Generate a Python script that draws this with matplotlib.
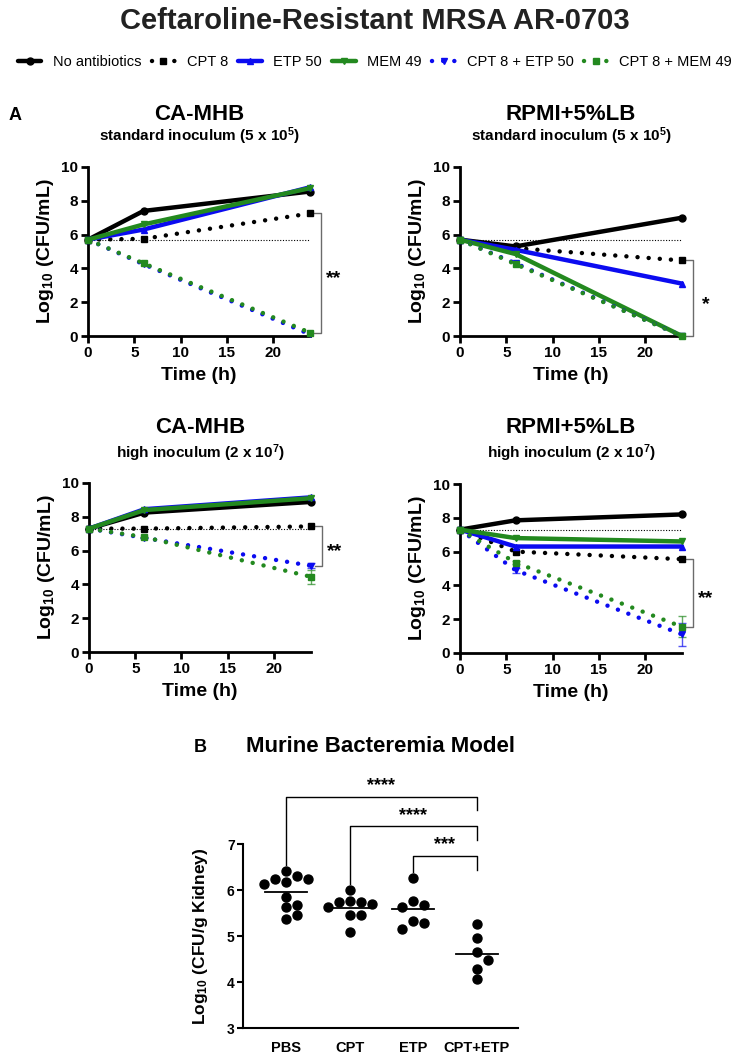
import matplotlib.pyplot as plt
import numpy as np
from matplotlib.lines import Line2D

plt.rcParams['font.family'] = ['Liberation Sans', 'DejaVu Sans']
plt.rcParams['font.weight'] = 'bold'
plt.rcParams['axes.labelweight'] = 'bold'
plt.rcParams['mathtext.fontset'] = 'custom'
plt.rcParams['mathtext.rm'] = 'Liberation Sans:bold'
plt.rcParams['mathtext.it'] = 'Liberation Sans:bold'
plt.rcParams['mathtext.bf'] = 'Liberation Sans:bold'

# time-kill data (log10 CFU/mL at 0, 6 and 24 h)
times = [0, 6, 24]
series = ["No antibiotics", "CPT 8", "ETP 50", "MEM 49", "CPT 8 + ETP 50", "CPT 8 + MEM 49"]

camhb_std = [[5.7, 7.4, 8.55], [5.7, 5.75, 7.25], [5.7, 6.3, 8.8],
             [5.7, 6.6, 8.75], [5.7, 4.25, 0.1], [5.7, 4.3, 0.2]]
rpmi_std = [[5.7, 5.3, 7.0], [5.7, 5.2, 4.47], [5.7, 5.1, 3.1],
            [5.7, 4.85, 0.0], [5.7, 4.3, 0.0], [5.7, 4.25, 0.0]]
camhb_high = [[7.3, 8.25, 8.88], [7.3, 7.3, 7.43], [7.3, 8.45, 9.15],
              [7.3, 8.4, 9.1], [7.3, 6.75, 5.1], [7.3, 6.8, 4.45]]
rpmi_high = [[7.3, 7.85, 8.2], [7.3, 6.0, 5.55], [7.3, 6.3, 6.3],
             [7.3, 6.8, 6.6], [7.3, 4.9, 1.1], [7.3, 5.35, 1.55]]

camhb_high_err = [[0, 0, 0], [0, 0, 0], [0, 0, 0], [0, 0, 0], [0, 0, 0.15], [0, 0, 0.42]]
rpmi_high_err = [[0, 0, 0], [0, 0, 0], [0, 0, 0], [0, 0, 0], [0, 0.15, 0.7], [0, 0.1, 0.62]]
no_err = [[0, 0, 0]] * 6

panel_media = ["CA-MHB", "RPMI+5%LB", "CA-MHB", "RPMI+5%LB"]
panel_inoc = ["standard inoculum (5 x 10$^{5}$)", "standard inoculum (5 x 10$^{5}$)",
              "high inoculum (2 x 10$^{7}$)", "high inoculum (2 x 10$^{7}$)"]
panel_stars = ["**", "*", "**", "**"]
panel_compare = [(1, 5), (1, 5), (1, 4), (1, 5)]

# murine bacteremia model (log10 CFU/g kidney)
groups = ["PBS", "CPT", "ETP", "CPT+ETP"]
pbs = [6.41, 6.32, 6.24, 6.24, 6.17, 6.13, 5.86, 5.64, 5.67, 5.45, 5.37]
cpt = [6.01, 5.74, 5.74, 5.70, 5.76, 5.64, 5.45, 5.45, 5.08]
etp = [6.26, 5.67, 5.64, 5.77, 5.16, 5.33, 5.29]
cpt_etp = [5.27, 4.96, 4.65, 4.48, 4.29, 4.07]
b_compare = [(0, 3, "****"), (1, 3, "****"), (2, 3, "***")]

blue = "#0b0bf0"
green = "#23891f"
colors = ["black", "black", blue, green, blue, green]
dotted = [False, True, False, False, True, True]
markers = ["o", "s", "^", "v", "v", "s"]
dot_style = (0, (0.01, 2.5))

fig = plt.figure(figsize=(7.5, 10.54), dpi=100)
H = 1054.0

fig.text(0.5, 1 - 21 / H, "Ceftaroline-Resistant MRSA AR-0703", ha="center", va="center",
         fontsize=21, color="#222222")


def line_kw(i):
    kw = dict(color=colors[i], lw=3.2, marker=markers[i], markersize=5,
              solid_capstyle="round", dash_capstyle="round")
    if dotted[i]:
        kw["linestyle"] = dot_style
    return kw


handles = [Line2D([0], [0], **line_kw(i)) for i in range(6)]
fig.legend(handles, series, loc="center", bbox_to_anchor=(0.5, 1 - 62 / H), ncol=6,
           frameon=False, handlelength=1.6, handletextpad=0.8, columnspacing=0.7,
           prop=dict(weight="normal", size=10.5))

rects = [(88, 167), (460, 167), (89, 483), (460, 484)]
datasets = [camhb_std, rpmi_std, camhb_high, rpmi_high]
errs = [no_err, no_err, camhb_high_err, rpmi_high_err]
draw_order = [2, 3, 4, 5, 1, 0]

for p in range(4):
    left, top = rects[p]
    ax = fig.add_axes([left / 750, 1 - (top + 169) / H, 222 / 750, 169 / H])
    vals = datasets[p]
    for i in draw_order:
        ax.plot(times, vals[i], clip_on=False, zorder=3 + i * 0.1, **line_kw(i))
        if any(errs[p][i]):
            ax.errorbar(times, vals[i], yerr=errs[p][i], fmt="none", ecolor=colors[i],
                        elinewidth=1, capsize=3, alpha=0.7, clip_on=False, zorder=2)
    ax.plot([0, 24], [vals[0][0]] * 2, color="black", lw=0.8, linestyle=(0, (1, 1.5)), zorder=2)

    a, b = panel_compare[p]
    y1, y2 = vals[a][-1], vals[b][-1]
    ax.plot([24.4, 25.2, 25.2, 24.4], [y1, y1, y2, y2], color="#6b6b6b", lw=1, clip_on=False)
    ax.text(26.6, (y1 + y2) / 2 - 0.35, panel_stars[p], ha="center", va="center", fontsize=14)

    ax.set_xlim(0, 24)
    ax.set_ylim(0, 10)
    ax.set_xticks([0, 5, 10, 15, 20])
    ax.set_yticks([0, 2, 4, 6, 8, 10])
    ax.spines[["top", "right"]].set_visible(False)
    ax.spines[["left", "bottom"]].set_linewidth(2)
    ax.tick_params(width=2, length=5, labelsize=11, pad=2)
    ax.set_xlabel("Time (h)", fontsize=14, labelpad=5)
    ax.set_ylabel("Log$_{10}$ (CFU/mL)", fontsize=14, labelpad=4)

    cx = (left + 111) / 750
    ty = 115 if p < 2 else 428
    fig.text(cx, 1 - ty / H, panel_media[p], ha="center", va="center", fontsize=16)
    fig.text(cx, 1 - (ty + 21 if p < 2 else ty + 25) / H, panel_inoc[p], ha="center",
             va="center", fontsize=11)

fig.text(15 / 750, 1 - 116 / H, "A", ha="center", va="center", fontsize=13)

# panel B
axb = fig.add_axes([243 / 750, 1 - 1028 / H, 275 / 750, 248 / H])
axb.set_xlim(-0.68, 3.65)
axb.set_ylim(3, 8.4)
fig.text(200 / 750, 1 - 747 / H, "B", ha="center", va="center", fontsize=13)
fig.text(381 / 750, 1 - 747 / H, "Murine Bacteremia Model", ha="center", va="center", fontsize=16)

diam = 10.0
for g, vals in enumerate([pbs, cpt, etp, cpt_etp]):
    # place close values side by side, like a column scatter
    placed = []
    xs = np.zeros(len(vals))
    for k in np.argsort(vals)[::-1]:
        px, py = axb.transData.transform((g, vals[k]))
        for step in [0, 1, -1, 2, -2, 3, -3]:
            cand = px + step * diam * 1.1
            if all(np.hypot(cand - qx, py - qy) >= diam for qx, qy in placed):
                break
        placed.append((cand, py))
        xs[k] = axb.transData.inverted().transform((cand, py))[0]
    axb.scatter(xs, vals, s=42, color="black", zorder=3, clip_on=False)
    m = np.mean(vals)
    axb.plot([g - 0.33, g + 0.33], [m, m], color="black", lw=1.3, zorder=2)

tops = [max(v) for v in [pbs, cpt, etp, cpt_etp]]
level = max(tops) + 0.33
for a, b, stars in b_compare[::-1]:
    axb.plot([a, a, b, b], [tops[a] + 0.13, level, level, level - 0.3],
             color="black", lw=1)
    axb.text((a + b) / 2, level + 0.06, stars, ha="center", va="bottom", fontsize=13)
    level += 0.65

axb.set_xticks(range(4))
axb.set_xticklabels(groups)
axb.set_yticks([3, 4, 5, 6, 7])
axb.spines[["top", "right"]].set_visible(False)
axb.spines["left"].set_bounds(3, 7)
axb.spines[["left", "bottom"]].set_linewidth(1.5)
axb.tick_params(axis="y", width=1.5, length=4, labelsize=10, pad=2)
axb.tick_params(axis="x", length=0, labelsize=10.5, pad=9)
axb.set_ylabel("Log$_{10}$ (CFU/g Kidney)", fontsize=12.5)
axb.yaxis.set_label_coords(-0.12, 0.37)

fig.savefig("out.png", dpi=100)
